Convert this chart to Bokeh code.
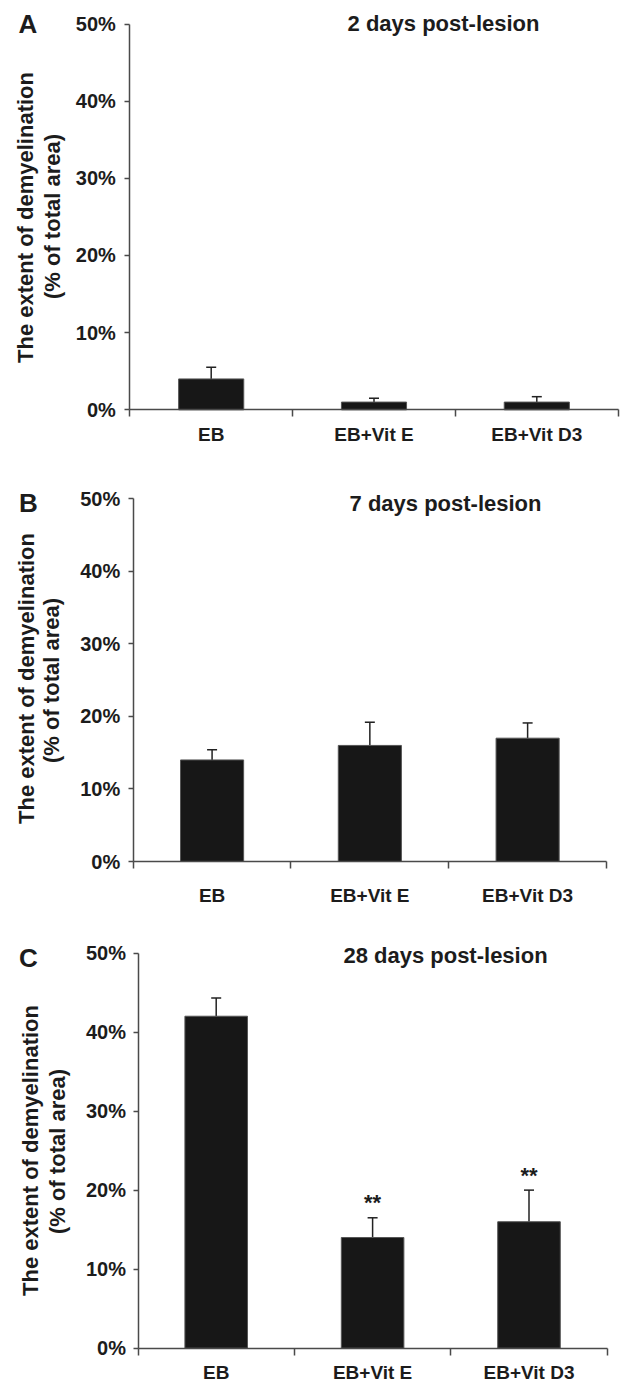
import math
from bokeh.plotting import figure
from bokeh.layouts import column
from bokeh.models import (Range1d, FixedTicker, PrintfTickFormatter, Label,
                          Whisker, TeeHead, ColumnDataSource)
from bokeh.core.properties import value
from bokeh.embed import file_html
from bokeh.resources import INLINE

# ---------------- data ----------------
categories = ["EB", "EB+Vit E", "EB+Vit D3"]

titles = ["2 days post-lesion", "7 days post-lesion", "28 days post-lesion"]
letters = ["A", "B", "C"]

mean_2d = [4.0, 1.0, 1.0]
err_2d = [1.5, 0.5, 0.7]
sig_2d = ["", "", ""]

mean_7d = [14.0, 16.0, 17.0]
err_7d = [1.4, 3.2, 2.1]
sig_7d = ["", "", ""]

mean_28d = [42.0, 14.0, 16.0]
err_28d = [2.3, 2.5, 4.0]
sig_28d = ["", "**", "**"]

y_ticks = [0, 10, 20, 30, 40, 50]
y_max = 50
y_label_1 = "The extent of demyelination"
y_label_2 = "(% of total area)"

# ---------------- style / layout (pixel geometry of each panel) ----------------
FONT = "Liberation Sans"
TXT = "#1c1c1c"
AX = "#4a4a4a"
BAR = "#171717"
W = 630

panels_geom = [
    dict(top=0, H=460, ax_left=129.3, ax_right=617.7, y0=409.3, ytop=23.5,
         cat_standoff=7, tick_standoff=9,
         letter=(27.5, 23), title=(443, 23), yl1=(25, 217), yl2=(52, 216)),
    dict(top=460, H=460, ax_left=132.7, ax_right=606.0, y0=861.0, ytop=498.3,
         cat_standoff=16, tick_standoff=8,
         letter=(28, 502), title=(445, 503), yl1=(26, 678), yl2=(51, 680)),
    dict(top=920, H=464, ax_left=137.5, ax_right=606.7, y0=1347.7, ytop=952.5,
         cat_standoff=7, tick_standoff=7,
         letter=(28, 957), title=(445, 955), yl1=(30, 1150), yl2=(57, 1151)),
]


def make_panel(letter, title, means, errs, sigs, g):
    n = len(categories)
    xs = [i + 0.5 for i in range(n)]
    uppers = [m + e for m, e in zip(means, errs)]
    src = ColumnDataSource(dict(x=xs, mean=means, upper=uppers, sig=sigs))

    H = g["H"]
    # ranges chosen so that the frame fills the whole canvas
    cw = (g["ax_right"] - g["ax_left"]) / n
    x_start = -g["ax_left"] / cw
    x_end = n + (W - g["ax_right"]) / cw
    ppu = (g["y0"] - g["ytop"]) / y_max
    y_start = -(g["top"] + H - g["y0"]) / ppu
    y_end = y_max + (g["ytop"] - g["top"]) / ppu

    p = figure(width=W, height=H, x_range=Range1d(x_start, x_end),
               y_range=Range1d(y_start, y_end),
               min_border=0, min_border_top=0, min_border_bottom=0,
               min_border_left=0, min_border_right=0,
               toolbar_location=None, output_backend="svg",
               outline_line_color=None, background_fill_color="white")
    p.grid.visible = False

    p.vbar(x="x", top="mean", bottom=0, width=0.4, source=src,
           fill_color=BAR, line_color="#555555", line_width=1)

    wk = Whisker(base="x", lower="mean", upper="upper", source=src,
                 line_color="#222222", line_width=1.5,
                 upper_head=TeeHead(size=10, line_color="#222222", line_width=1.5),
                 lower_head=None)
    p.add_layout(wk)

    p.text(x="x", y="upper", text="sig", source=src, text_align="center",
           text_baseline="middle", y_offset=-15, text_font=value(FONT),
           text_font_style="bold", text_font_size="22px", text_color=TXT)

    # x axis
    xa = p.xaxis[0]
    xa.fixed_location = 0
    xa.bounds = (0, n)
    xa.ticker = FixedTicker(ticks=xs, minor_ticks=list(range(n + 1)))
    xa.major_label_overrides = {x: c for x, c in zip(xs, categories)}
    xa.major_tick_out = 0
    xa.major_tick_in = 0
    xa.minor_tick_out = 7
    xa.minor_tick_in = 0
    xa.minor_tick_line_color = AX
    xa.minor_tick_line_width = 1.5
    xa.axis_line_color = AX
    xa.axis_line_width = 1.5
    xa.major_label_standoff = g["cat_standoff"]
    xa.major_label_text_font = FONT
    xa.major_label_text_font_style = "bold"
    xa.major_label_text_font_size = "19px"
    xa.major_label_text_color = TXT

    # y axis
    ya = p.yaxis[0]
    ya.fixed_location = 0
    ya.bounds = (0, y_max)
    ya.ticker = FixedTicker(ticks=y_ticks, minor_ticks=[])
    ya.formatter = PrintfTickFormatter(format="%d%%")
    ya.major_tick_out = 5
    ya.major_tick_in = 0
    ya.minor_tick_line_color = None
    ya.major_tick_line_color = AX
    ya.major_tick_line_width = 1.5
    ya.axis_line_color = AX
    ya.axis_line_width = 1.5
    ya.major_label_standoff = g["tick_standoff"]
    ya.major_label_text_font = FONT
    ya.major_label_text_font_style = "bold"
    ya.major_label_text_font_size = "20px"
    ya.major_label_text_color = TXT

    def add_label(text, pt, size, angle=0.0):
        px, py = pt
        p.add_layout(Label(x=px, y=H - (py - g["top"]), x_units="screen", y_units="screen",
                           text=text, angle=angle, text_align="center",
                           text_baseline="middle", text_font=FONT,
                           text_font_style="bold", text_font_size=size,
                           text_color=TXT))

    add_label(letter, g["letter"], "26px")
    add_label(title, g["title"], "22px")
    add_label(y_label_1, g["yl1"], "22px", angle=math.pi / 2)
    add_label(y_label_2, g["yl2"], "22px", angle=math.pi / 2)
    return p


series = [(mean_2d, err_2d, sig_2d), (mean_7d, err_7d, sig_7d), (mean_28d, err_28d, sig_28d)]
figs = [make_panel(letters[i], titles[i], s[0], s[1], s[2], panels_geom[i])
        for i, s in enumerate(series)]

layout = column(*figs, spacing=0)
open("out.html", "w").write(file_html(layout, INLINE))
